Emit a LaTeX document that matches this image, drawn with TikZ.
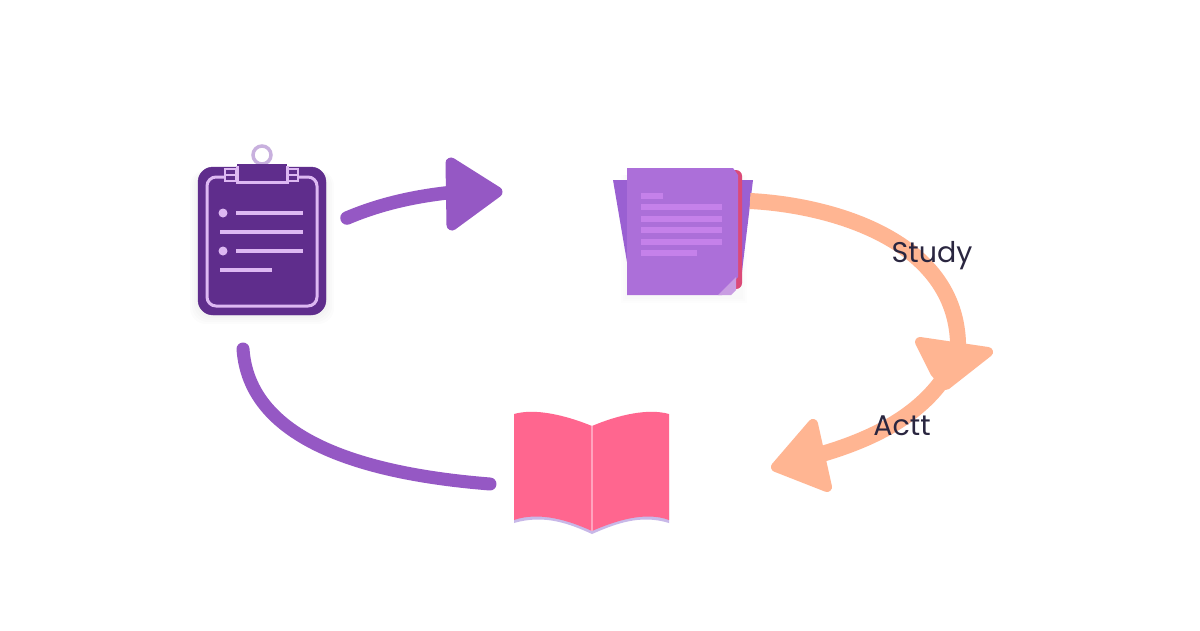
\documentclass[tikz,border=0pt]{standalone}
\usepackage{fontspec}
\setmainfont{Poppins}
\usepackage{tikz}
\usetikzlibrary{calc}
\definecolor{clipdark}{HTML}{5F2D8C}
\definecolor{cliplight}{HTML}{DDB8F2}
\definecolor{ringlight}{HTML}{C8B0DE}
\definecolor{arrowpurple}{HTML}{9558C4}
\definecolor{pagefront}{HTML}{AC6FD9}
\definecolor{pageback}{HTML}{9A60D2}
\definecolor{pageline}{HTML}{C581EA}
\definecolor{pagered}{HTML}{DB4A78}
\definecolor{pagefold}{HTML}{C99DE2}
\definecolor{arrowpeach}{HTML}{FFB592}
\definecolor{bookpink}{HTML}{FF668F}
\definecolor{bookspine}{HTML}{FFA3BE}
\definecolor{bookrim}{HTML}{C8B8E8}
\definecolor{labelink}{HTML}{2A2640}
\tikzset{
  curvepurple/.style={draw=arrowpurple,line width=13.5pt,line cap=round},
  curvepeach/.style={draw=arrowpeach,line width=16pt},
  headpurple/.style={fill=arrowpurple,draw=arrowpurple,line width=11pt,line join=round},
  headpeach/.style={fill=arrowpeach,draw=arrowpeach,line width=10pt,line join=round},
  clipline/.style={draw=cliplight,line width=3.5pt},
  pageline/.style={draw=pageline,line width=5.5pt},
  steplabel/.style={font=\fontsize{28.5}{32}\selectfont,text=labelink,inner sep=0pt},
}
\begin{document}
\begin{tikzpicture}[x=1pt,y=-1pt]
\useasboundingbox (0,0) rectangle (1200,630);
\fill[white] (0,0) rectangle (1200,630);

% clipboard
\foreach \d in {2,4,6,8}{
\fill[black,opacity=0.01,rounded corners=16pt] (198-\d,170) rectangle (326+\d,316+\d);
}
\draw[ringlight,line width=3.5pt] (262,155) circle (9);
\filldraw[clipdark,rounded corners=15pt] (198,167) rectangle (326,315);
\draw[cliplight,line width=3pt,rounded corners=9pt] (207,177) rectangle (317,306);
\foreach \x in {225,287}{
\filldraw[fill=clipdark,draw=cliplight,line width=2pt] (\x,169) rectangle ++(11,12);
\draw[cliplight,line width=2pt] (\x,175) -- ++(11,0);
}
\fill[clipdark] (237,164) rectangle (287,182);
\draw[cliplight,line width=3pt] (237,166) -- (237,182) -- (287,182) -- (287,166);
\foreach \y/\a/\b in {213/236/303,232/220/303,251/236/303,270/220/272}{
\draw[clipline] (\a,\y) -- (\b,\y);
}
\foreach \y in {213,251}{
\fill[cliplight] (223,\y) circle (4.5);
}

% document
\coordinate (p1) at (613,180);
\coordinate (p2) at (753,180);
\foreach \d in {2,4,6}{
\fill[black,opacity=0.006] (627-\d,175) rectangle (741+\d,297+\d);
}
\fill[pageback] (p1) -- (p2) -- (741,280) -- (627,280) -- (627,262) -- cycle;
\fill[pagered,rounded corners=6pt] (725,170) -- (742,170) -- (742,289) -- (725,289) -- cycle;
\fill[pagefront] (627,168) -- (733,168) -- (738,175) -- (738,277) -- (722,295) -- (627,295) -- cycle;
\fill[pagefold] (736,277) -- (718,295) -- (731,295) -- (736,290) -- cycle;
\foreach \y/\b in {196/663,207/722,219/722,230/722,242/722,253/697}{
\draw[pageline] (641,\y) -- (\b,\y);
}

% book
\fill[bookrim] (514,470) -- (669,470) -- (669,523) .. controls (640,514) and (615,524) .. (592,534) .. controls (570,524) and (545,514) .. (514,523) -- cycle;
\fill[bookpink] (514,414) .. controls (535,408) and (565,415) .. (592,426) .. controls (618,415) and (648,408) .. (669,414) -- (669,520) .. controls (645,511) and (615,521) .. (592,531) .. controls (570,521) and (540,511) .. (514,520) -- cycle;
\draw[bookspine,line width=1.5pt] (592,426) -- (592,531);

% arrow from clipboard to document
\coordinate (a0) at (347,218);
\coordinate (a1) at (455,192);
\draw[curvepurple] (a0) .. controls (380,204) and (415,196) .. (a1);
\filldraw[headpurple] (451,163) -- (497,192) -- (452,225) -- cycle;

% arrow from document round to first head
\coordinate (b0) at (750,201);
\coordinate (b1) at (958,352);
\draw[curvepeach] (b0) .. controls (830,205) and (962,240) .. (b1);
\filldraw[headpeach] (920,342) -- (988,352) -- (946,385) -- (935,372) -- cycle;

% arrow from first head to book side
\coordinate (c0) at (944,378);
\coordinate (c1) at (815,456);
\draw[curvepeach] (c0) .. controls (915,420) and (865,442) .. (c1);
\filldraw[headpeach] (813,424) -- (776,467) -- (827,487) -- cycle;

% arrow from book to clipboard
\coordinate (d0) at (490,484);
\coordinate (d1) at (243,349);
\draw[curvepurple,line width=13pt] (d0) .. controls (390,476) and (250,450) .. (d1);

\node[steplabel] (study) at (932,256) {Study};
\node[steplabel] (act) at (902,426) {Actt};
\end{tikzpicture}
\end{document}
